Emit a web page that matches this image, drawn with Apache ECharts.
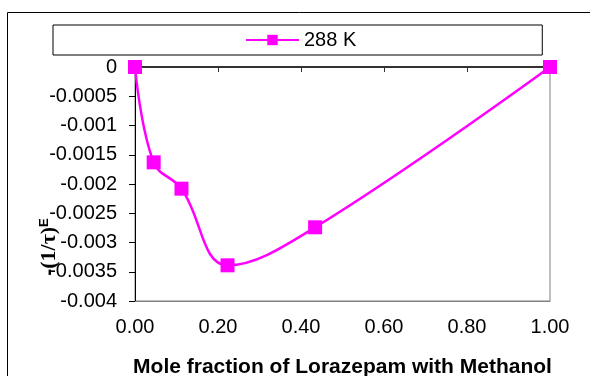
<!DOCTYPE html>
<html>
<head>
<meta charset="utf-8">
<script src="https://cdn.jsdelivr.net/npm/echarts@6/dist/echarts.min.js"></script>
<style>
  html, body { margin: 0; padding: 0; background: #fff; }
  #chart { width: 590px; height: 376px; }
</style>
</head>
<body>
<div id="chart"></div>
<script>
// mole fraction of lorazepam vs -(1/tau)^E at 288 K
const seriesName = "288 K"
const moleFraction = [0, 0.045, 0.112, 0.223, 0.434, 1.0]
const excessValues = [0, -0.00163, -0.00208, -0.00339, -0.00274, 0]
const xTicks = { min: 0, max: 1, interval: 0.2 }
const yTicks = { min: -0.004, max: 0, interval: 0.0005 }

const xTitle = "Mole fraction of Lorazepam with Methanol"
const magenta = "#ff00ff"
const labelFont = "'Liberation Sans', Arial, sans-serif"

const chart = echarts.init(document.getElementById("chart"), null, { renderer: "canvas" })

chart.setOption({
  backgroundColor: "#fff",
  animation: false,
  grid: {
    left: 135, right: 40, top: 67, bottom: 75,
    outerBoundsMode: "none",
    show: true, borderColor: "#808080", borderWidth: 1,
  },
  legend: {
    left: 53, top: 25,
    padding: [5, 186, 5, 192],
    borderColor: "#000", borderWidth: 1,
    itemWidth: 53, itemHeight: 13,
    textStyle: { fontFamily: labelFont, fontSize: 20, color: "#000" },
    data: [seriesName],
  },
  xAxis: [
    {
      type: "value",
      min: xTicks.min, max: xTicks.max, interval: xTicks.interval,
      position: "bottom",
      axisLine: { show: true, onZero: false, lineStyle: { color: "#808080", width: 1 } },
      axisTick: { show: false },
      splitLine: { show: false },
      axisLabel: {
        margin: 16, color: "#000", fontFamily: labelFont, fontSize: 20,
        formatter: (v) => v.toFixed(2),
      },
      name: xTitle,
      nameLocation: "middle",
      nameGap: 56,
      nameTextStyle: { fontFamily: labelFont, fontSize: 21, fontWeight: "bold", color: "#000" },
    },
    {
      type: "value",
      min: xTicks.min, max: xTicks.max, interval: xTicks.interval,
      position: "top",
      axisLine: { show: true, onZero: false, lineStyle: { color: "#333", width: 2 } },
      axisTick: { show: true, inside: true, length: 5, lineStyle: { color: "#333" } },
      axisLabel: { show: false },
      splitLine: { show: false },
    },
  ],
  yAxis: {
    type: "value",
    min: yTicks.min, max: yTicks.max, interval: yTicks.interval,
    axisLine: { show: true, onZero: false, lineStyle: { color: "#000", width: 1 } },
    axisTick: { show: true, length: 6, lineStyle: { color: "#000" } },
    splitLine: { show: false },
    axisLabel: {
      margin: 18, color: "#000", fontFamily: labelFont, fontSize: 20,
      formatter: (v) => String(parseFloat(v.toFixed(4))),
    },
  },
  graphic: [
    {
      type: "rect",
      silent: true,
      shape: { x: 7.5, y: 12.5, width: 700, height: 500 },
      style: { fill: "none", stroke: "#000", lineWidth: 1 },
      z: -1,
    },
    {
      type: "text",
      x: 49, y: 247,
      rotation: Math.PI / 2,
      style: {
        text: "{m|-}{p|(1/τ)}{s|E}",
        align: "center",
        verticalAlign: "middle",
        rich: {
          m: { fontFamily: labelFont, fontWeight: "bold", fontSize: 21, fill: "#000", verticalAlign: "bottom" },
          p: { fontFamily: "'Liberation Serif', 'Times New Roman', serif", fontWeight: "bold", fontSize: 22, fill: "#000", verticalAlign: "bottom" },
          s: { fontFamily: labelFont, fontWeight: "bold", fontSize: 13, fill: "#000", verticalAlign: "top" },
        },
      },
    },
  ],
  series: [
    {
      name: seriesName,
      type: "line",
      xAxisIndex: 0,
      smooth: 0.4,
      symbol: "rect",
      symbolSize: 14,
      lineStyle: { color: magenta, width: 2.5 },
      itemStyle: { color: magenta },
      data: moleFraction.map((x, i) => [x, excessValues[i]]),
    },
  ],
})
</script>
</body>
</html>
